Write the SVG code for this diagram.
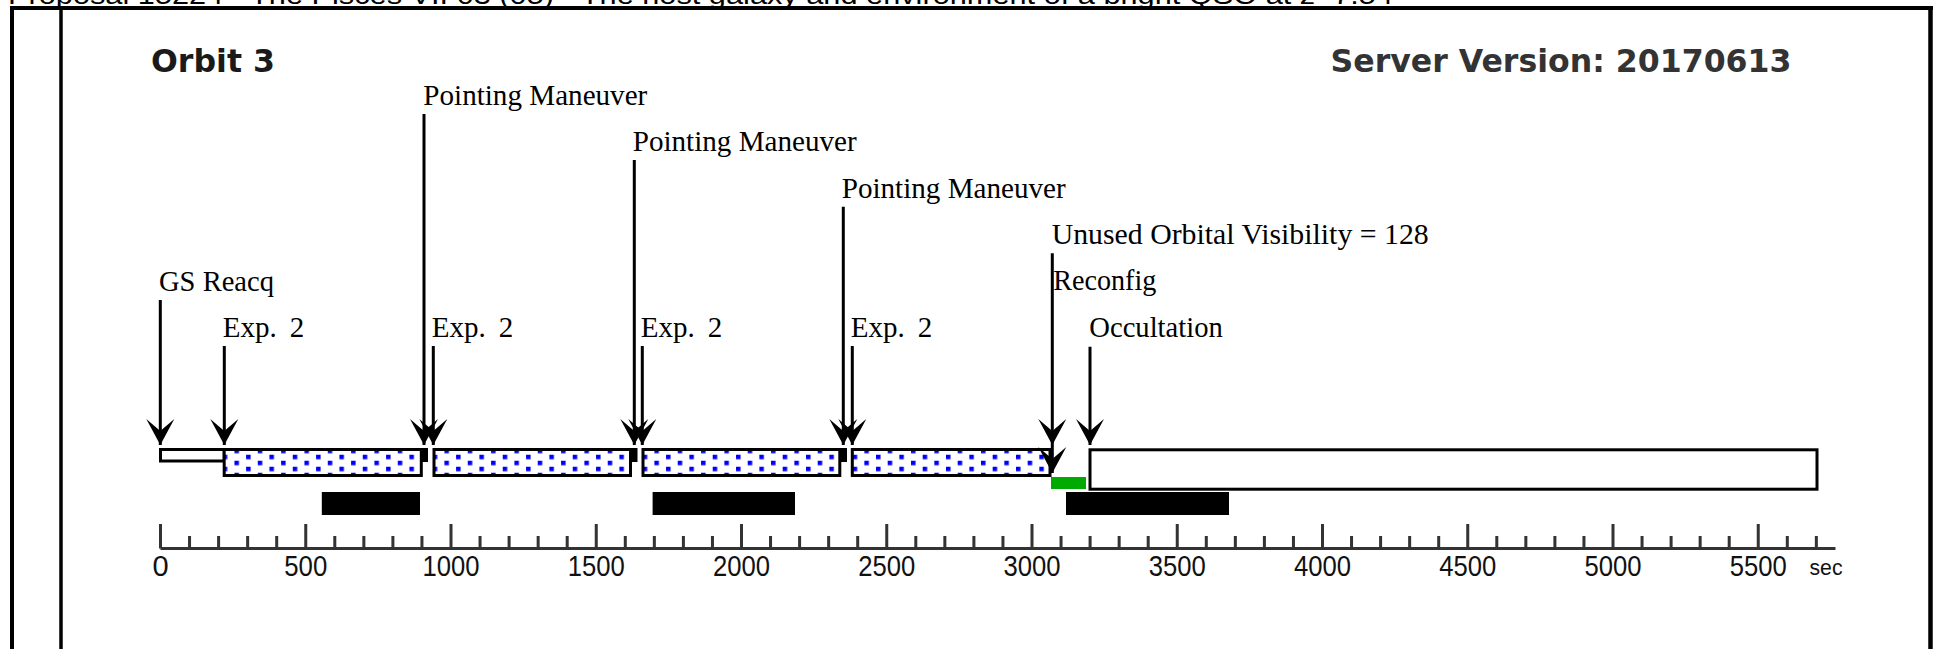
<svg xmlns="http://www.w3.org/2000/svg" width="1937" height="649" viewBox="0 0 1937 649">
<style>
.lbl{font-family:"Liberation Serif","Times New Roman",serif;font-size:29px;fill:#000}
.tk{font-family:"Liberation Sans",Arial,sans-serif;font-size:29px;fill:#111;text-anchor:middle}
.ttl{font-family:"DejaVu Sans","Liberation Sans",sans-serif;font-weight:bold;font-size:32px}
.ev{stroke:#000;stroke-width:3;fill:none}
.box{stroke:#000;stroke-width:3}
.ax{stroke:#333;stroke-width:3;fill:none}
.frame{stroke:#000;fill:none}
</style>
<defs>
<path id="ah" d="M0,0 L-14,-26 L0,-14 L14,-26 Z" fill="#000"/>
<pattern id="dots" patternUnits="userSpaceOnUse" x="234.45" y="448.75" width="23.33" height="12">
<rect x="0" y="0" width="4.5" height="4.5" fill="#0000ff"/>
<rect x="11.66" y="6" width="4.5" height="4.5" fill="#0000ff"/>
</pattern>
</defs>
<rect width="1937" height="649" fill="#fff"/>
<text x="8" y="4" font-family="Liberation Sans,Arial,sans-serif" font-size="26" fill="#000" textLength="1385" lengthAdjust="spacingAndGlyphs">Proposal 15224 - The Pisces VII 03 (05) - The host galaxy and environment of a bright QSO at z~7.54</text>
<g id="frame">
<line class="frame" x1="10" y1="8" x2="1933" y2="8" stroke-width="4"/>
<line class="frame" x1="12" y1="6" x2="12" y2="649" stroke-width="4"/>
<line class="frame" x1="61" y1="8" x2="61" y2="649" stroke-width="3.5"/>
<line class="frame" x1="1930.5" y1="6" x2="1930.5" y2="649" stroke-width="4.5"/>
</g>
<g id="title">
<text class="ttl" x="151" y="72" fill="#1a1a1a" textLength="124" lengthAdjust="spacingAndGlyphs">Orbit 3</text>
<text class="ttl" x="1330.5" y="72" fill="#333" textLength="461" lengthAdjust="spacingAndGlyphs">Server Version: 20170613</text>
</g>
<g id="segments">
<rect id="seg-gs" class="box" x="160.5" y="449.5" width="63.7" height="11.5" fill="#fff"/>
<g id="exp1"><rect x="224.2" y="449.5" width="197.1" height="26" fill="#fff"/><rect x="224.2" y="449.5" width="197.1" height="26" fill="url(#dots)" class="box"/></g>
<g id="exp2"><rect x="434" y="449.5" width="196.5" height="26" fill="#fff"/><rect x="434" y="449.5" width="196.5" height="26" fill="url(#dots)" class="box"/></g>
<g id="exp3"><rect x="643" y="449.5" width="196.8" height="26" fill="#fff"/><rect x="643" y="449.5" width="196.8" height="26" fill="url(#dots)" class="box"/></g>
<g id="exp4"><rect x="852.3" y="449.5" width="197.7" height="26" fill="#fff"/><rect x="852.3" y="449.5" width="197.7" height="26" fill="url(#dots)" class="box"/></g>
<rect x="421.5" y="448" width="6.5" height="14" fill="#000"/>
<rect x="631" y="448" width="6.5" height="14" fill="#000"/>
<rect x="840.5" y="448" width="6.5" height="14" fill="#000"/>
<rect id="reconfig-bar" x="1051" y="477" width="35" height="12" fill="#00aa00"/>
<rect id="occ-box" class="box" x="1090" y="449.8" width="727" height="39.4" fill="#fff"/>
</g>
<g id="saa">
<rect x="321.8" y="492" width="98.2" height="23" fill="#000"/>
<rect x="652.6" y="492" width="142.4" height="23" fill="#000"/>
<rect x="1066" y="492" width="163" height="23" fill="#000"/>
</g>
<g id="connectors">
<path class="ev" d="M160.3 300V445 M224.3 346V445 M424 114V445 M433.3 346V445 M634.3 160V445 M642.3 346V445 M843.3 206.7V445 M852.3 346V445 M1052.3 253.3V473 M1090 346.7V445"/>
<use href="#ah" x="160.3" y="445"/>
<use href="#ah" x="224.3" y="445"/>
<use href="#ah" x="424" y="445"/>
<use href="#ah" x="433.3" y="445"/>
<use href="#ah" x="634.3" y="445"/>
<use href="#ah" x="642.3" y="445"/>
<use href="#ah" x="843.3" y="445"/>
<use href="#ah" x="852.3" y="445"/>
<use href="#ah" x="1052.3" y="445"/>
<use href="#ah" x="1052.3" y="473"/>
<use href="#ah" x="1090" y="445"/>
</g>
<g id="ev-gs"><text class="lbl" x="159" y="290.5" textLength="115" lengthAdjust="spacingAndGlyphs">GS Reacq</text></g>
<g id="ev-exp1"><text class="lbl" x="222.7" y="337">Exp.<tspan dx="13">2</tspan></text></g>
<g id="ev-pm1"><text class="lbl" x="423.3" y="104.5" textLength="224" lengthAdjust="spacingAndGlyphs">Pointing Maneuver</text></g>
<g id="ev-exp2"><text class="lbl" x="431.7" y="337">Exp.<tspan dx="13">2</tspan></text></g>
<g id="ev-pm2"><text class="lbl" x="632.7" y="151" textLength="224" lengthAdjust="spacingAndGlyphs">Pointing Maneuver</text></g>
<g id="ev-exp3"><text class="lbl" x="640.7" y="337">Exp.<tspan dx="13">2</tspan></text></g>
<g id="ev-pm3"><text class="lbl" x="841.7" y="197.5" textLength="224" lengthAdjust="spacingAndGlyphs">Pointing Maneuver</text></g>
<g id="ev-exp4"><text class="lbl" x="850.7" y="337">Exp.<tspan dx="13">2</tspan></text></g>
<g id="ev-unused"><text class="lbl" x="1051.7" y="243.5" textLength="377" lengthAdjust="spacingAndGlyphs">Unused Orbital Visibility = 128</text></g>
<g id="ev-reconfig"><text class="lbl" x="1053.3" y="290" textLength="103" lengthAdjust="spacingAndGlyphs">Reconfig</text></g>
<g id="ev-occ"><text class="lbl" x="1089.3" y="337" textLength="133.5" lengthAdjust="spacingAndGlyphs">Occultation</text></g>
<g id="axis">
<path class="ax" d="M160.5 548.5H1835.5"/>
<path class="ax" d="M160.5 524V548.5 M305.75 524V548.5 M451 524V548.5 M596.25 524V548.5 M741.5 524V548.5 M886.75 524V548.5 M1032 524V548.5 M1177.25 524V548.5 M1322.5 524V548.5 M1467.75 524V548.5 M1613 524V548.5 M1758.25 524V548.5"/>
<path class="ax" d="M189.55 536v12.5M218.6 536v12.5M247.65 536v12.5M276.7 536v12.5M334.8 536v12.5M363.85 536v12.5M392.9 536v12.5M421.95 536v12.5M480.05 536v12.5M509.1 536v12.5M538.15 536v12.5M567.2 536v12.5M625.3 536v12.5M654.35 536v12.5M683.4 536v12.5M712.45 536v12.5M770.55 536v12.5M799.6 536v12.5M828.65 536v12.5M857.7 536v12.5M915.8 536v12.5M944.85 536v12.5M973.9 536v12.5M1002.95 536v12.5M1061.05 536v12.5M1090.1 536v12.5M1119.15 536v12.5M1148.2 536v12.5M1206.3 536v12.5M1235.35 536v12.5M1264.4 536v12.5M1293.45 536v12.5M1351.55 536v12.5M1380.6 536v12.5M1409.65 536v12.5M1438.7 536v12.5M1496.8 536v12.5M1525.85 536v12.5M1554.9 536v12.5M1583.95 536v12.5M1642.05 536v12.5M1671.1 536v12.5M1700.15 536v12.5M1729.2 536v12.5M1787.3 536v12.5M1816.35 536v12.5"/>
<text class="tk" x="160.5" y="576">0</text>
<text class="tk" x="305.75" y="576" textLength="43" lengthAdjust="spacingAndGlyphs">500</text>
<text class="tk" x="451" y="576" textLength="57" lengthAdjust="spacingAndGlyphs">1000</text>
<text class="tk" x="596.25" y="576" textLength="57" lengthAdjust="spacingAndGlyphs">1500</text>
<text class="tk" x="741.5" y="576" textLength="57" lengthAdjust="spacingAndGlyphs">2000</text>
<text class="tk" x="886.75" y="576" textLength="57" lengthAdjust="spacingAndGlyphs">2500</text>
<text class="tk" x="1032" y="576" textLength="57" lengthAdjust="spacingAndGlyphs">3000</text>
<text class="tk" x="1177.25" y="576" textLength="57" lengthAdjust="spacingAndGlyphs">3500</text>
<text class="tk" x="1322.5" y="576" textLength="57" lengthAdjust="spacingAndGlyphs">4000</text>
<text class="tk" x="1467.75" y="576" textLength="57" lengthAdjust="spacingAndGlyphs">4500</text>
<text class="tk" x="1613" y="576" textLength="57" lengthAdjust="spacingAndGlyphs">5000</text>
<text class="tk" x="1758.25" y="576" textLength="57" lengthAdjust="spacingAndGlyphs">5500</text>
<text x="1809.5" y="575" font-family="Liberation Sans,Arial,sans-serif" font-size="22" fill="#111" textLength="33" lengthAdjust="spacingAndGlyphs">sec</text>
</g>
</svg>
